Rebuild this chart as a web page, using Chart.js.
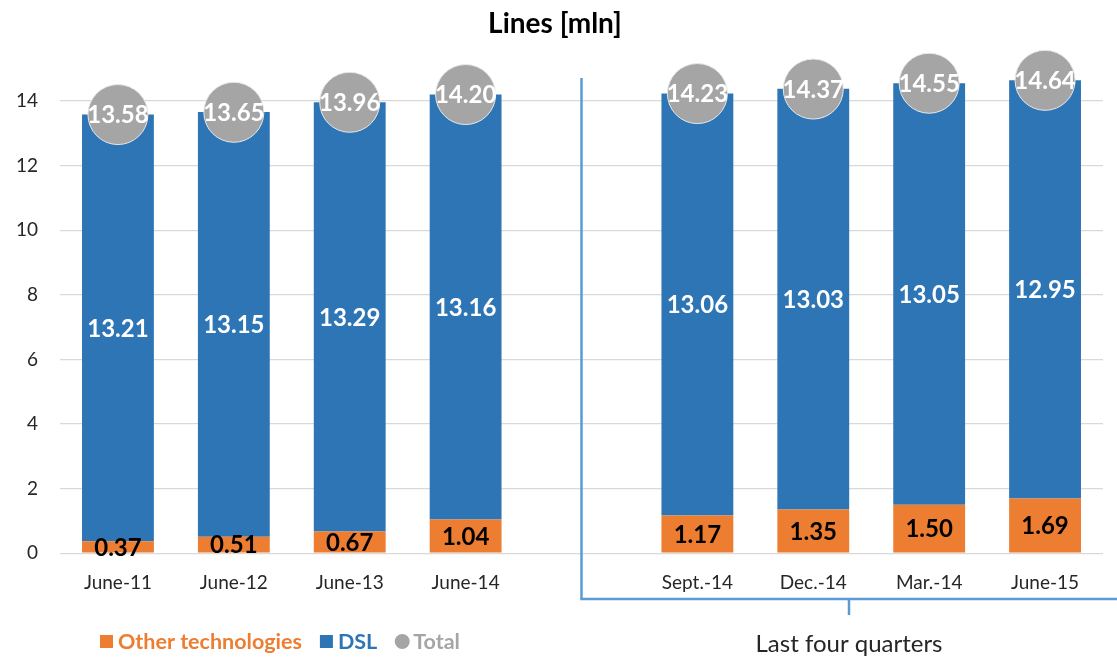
<!DOCTYPE html>
<html>
<head>
<meta charset="utf-8">
<script src="https://cdn.jsdelivr.net/npm/chart.js@4.4.1/dist/chart.umd.min.js"></script>
<style>
  html, body { margin: 0; padding: 0; background: #fff; }
  #wrap { width: 1117px; height: 657px; position: relative; }
</style>
</head>
<body>
<div id="wrap"><canvas id="chart" width="1117" height="657"></canvas></div>
<script>
// categories (empty slot = gap between yearly and quarterly groups)
const categories = ["June-11", "June-12", "June-13", "June-14", "", "Sept.-14", "Dec.-14", "Mar.-14", "June-15"];
const otherTech = [0.37, 0.51, 0.67, 1.04, null, 1.17, 1.35, 1.50, 1.69];
const dsl = [13.21, 13.15, 13.29, 13.16, null, 13.06, 13.03, 13.05, 12.95];
const totals = [13.58, 13.65, 13.96, 14.20, null, 14.23, 14.37, 14.55, 14.64];
const yTicks = [0, 2, 4, 6, 8, 10, 12, 14];

const ORANGE = "#ED7D31";
const BLUE = "#2E75B6";
const GREY = "#A5A5A5";
const FONT = "Lato, 'Open Sans', sans-serif";

// value labels on bars and bubbles
const labelPlugin = {
    id: "valueLabels",
    afterDatasetsDraw(chart) {
        const ctx = chart.ctx;
        ctx.save();
        ctx.textAlign = "center";
        ctx.textBaseline = "middle";
        ctx.font = "bold 24px " + FONT;
        chart.data.datasets.forEach((ds, i) => {
            const meta = chart.getDatasetMeta(i);
            meta.data.forEach((el, j) => {
                const v = ds.data[j];
                if (v == null) return;
                const y = meta.type === "bar" ? (el.y + el.base) / 2 : el.y;
                ctx.fillStyle = ds.labelColor;
                ctx.fillText(v.toFixed(2), el.x, y + 1);
            });
        });
        ctx.restore();
    }
};

// title, bracket, "Last four quarters" and legend
const decorPlugin = {
    id: "decor",
    afterDraw(chart) {
        const ctx = chart.ctx;
        const gapX = chart.scales.x.getPixelForValue(4);
        ctx.save();

        ctx.fillStyle = "#000";
        ctx.font = "bold 28px " + FONT;
        ctx.textAlign = "center";
        ctx.textBaseline = "middle";
        ctx.fillText("Lines [mln]", 555, 24);

        ctx.strokeStyle = "#5B9BD5";
        ctx.lineWidth = 2.5;
        ctx.beginPath();
        ctx.moveTo(gapX, 78);
        ctx.lineTo(gapX, 599);
        ctx.lineTo(chart.width, 599);
        ctx.moveTo(849, 599);
        ctx.lineTo(849, 615);
        ctx.stroke();

        ctx.fillStyle = "#262626";
        ctx.font = "24px " + FONT;
        ctx.fillText("Last four quarters", 849, 644);

        // legend
        ctx.textAlign = "left";
        ctx.font = "bold 21.5px " + FONT;
        const ly = 641;
        let lx = 100;
        const items = [
            { text: "Other technologies", color: ORANGE, shape: "square" },
            { text: "DSL", color: BLUE, shape: "square" },
            { text: "Total", color: GREY, shape: "circle" }
        ];
        items.forEach(it => {
            ctx.fillStyle = it.color;
            if (it.shape === "square") {
                ctx.fillRect(lx, ly - 6, 13, 13);
            } else {
                ctx.beginPath();
                ctx.arc(lx + 7, ly + 0.5, 7.5, 0, Math.PI * 2);
                ctx.fill();
            }
            ctx.fillText(it.text, lx + 18, ly + 1);
            lx += 18 + ctx.measureText(it.text).width + 18;
        });

        ctx.restore();
    }
};

new Chart(document.getElementById("chart"), {
    type: "bar",
    data: {
        labels: categories,
        datasets: [
            {
                type: "line",
                label: "Total",
                data: totals,
                stack: "total",
                showLine: false,
                pointRadius: 30,
                pointHoverRadius: 30,
                pointBackgroundColor: GREY,
                pointBorderColor: "#e8e8e8",
                pointBorderWidth: 1,
                labelColor: "#ffffff",
                clip: false,
                order: 0
            },
            {
                label: "Other technologies",
                data: otherTech,
                backgroundColor: ORANGE,
                stack: "lines",
                labelColor: "#000000",
                order: 1
            },
            {
                label: "DSL",
                data: dsl,
                backgroundColor: BLUE,
                stack: "lines",
                labelColor: "#ffffff",
                clip: false,
                order: 2
            }
        ]
    },
    options: {
        responsive: false,
        animation: false,
        events: [],
        categoryPercentage: 1.0,
        barPercentage: 0.62,
        layout: { autoPadding: false, padding: { top: 101, left: 14, right: 14, bottom: 63 } },
        plugins: {
            legend: { display: false },
            title: { display: false },
            tooltip: { enabled: false }
        },
        scales: {
            x: {
                stacked: true,
                grid: {
                    display: true,
                    drawOnChartArea: false,
                    drawTicks: true,
                    tickLength: 18,
                    tickColor: "rgba(0,0,0,0)"
                },
                border: { display: false },
                ticks: {
                    padding: 0,
                    color: "#262626",
                    font: { family: FONT, size: 19 },
                    maxRotation: 0,
                    autoSkip: false
                }
            },
            y: {
                stacked: true,
                min: 0,
                max: 14,
                afterBuildTicks(axis) {
                    axis.ticks = yTicks.map(v => ({ value: v }));
                },
                afterFit(axis) {
                    axis.width = 46;
                },
                grid: { color: "#D9D9D9", lineWidth: 1.3, drawTicks: false },
                border: { display: false },
                ticks: {
                    padding: 22,
                    color: "#262626",
                    font: { family: FONT, size: 19 }
                }
            }
        }
    },
    plugins: [labelPlugin, decorPlugin]
});
</script>
</body>
</html>
